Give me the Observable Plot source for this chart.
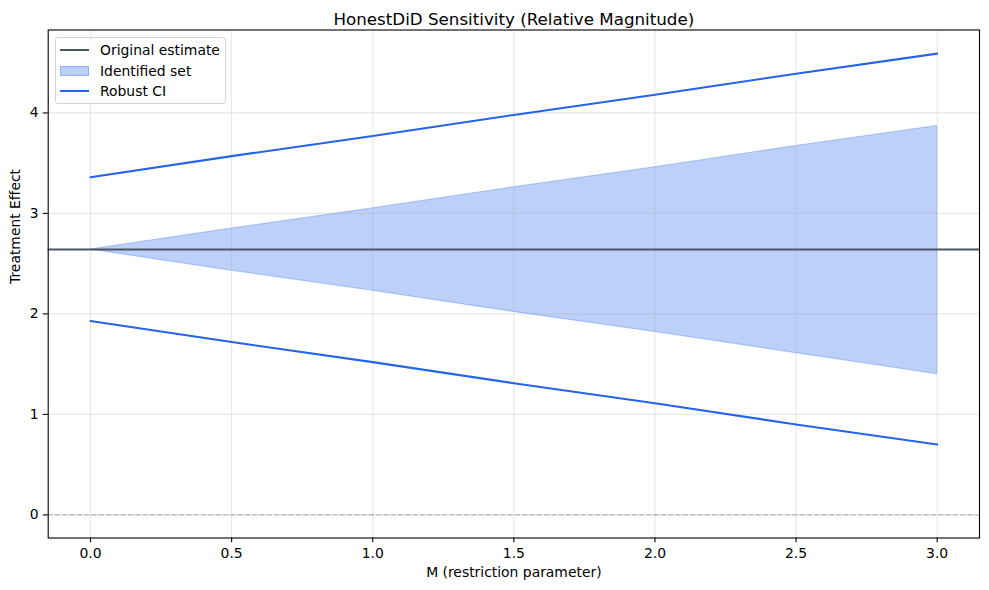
<!DOCTYPE html>
<html><head><meta charset="utf-8">
<script src="https://cdn.jsdelivr.net/npm/d3@7"></script>
<script src="https://cdn.jsdelivr.net/npm/@observablehq/plot@0.6"></script>
<style>
body{margin:0;background:#fff;}
#wrap{position:relative;width:989px;height:590px;font-family:"DejaVu Sans",sans-serif;}
#wrap svg{display:block;}
.legend{position:absolute;left:55px;top:37px;width:171px;height:67px;border:1px solid #d4d4d4;border-radius:3px;background:rgba(255,255,255,0.8);box-sizing:border-box;}
.row{position:absolute;left:0;height:20px;width:100%;}
.sw{position:absolute;left:4px;width:29px;}
.lab{position:absolute;left:44px;font-size:13.9px;line-height:20px;top:-10px;color:#000;white-space:nowrap;}
</style>
</head><body>
<div id="wrap"></div>
<script>
const M = [0, 0.5, 1, 1.5, 2, 2.5, 3];
const originalEstimate = 2.64;
const idLower = [2.64, 2.43, 2.23, 2.02, 1.82, 1.61, 1.40];
const idUpper = [2.64, 2.85, 3.05, 3.26, 3.46, 3.67, 3.87];
const ciLower = [1.93, 1.72, 1.52, 1.31, 1.11, 0.90, 0.70];
const ciUpper = [3.36, 3.57, 3.77, 3.98, 4.18, 4.39, 4.59];
const xTicks = [0, 0.5, 1, 1.5, 2, 2.5, 3];
const yTicks = [0, 1, 2, 3, 4];
const legendLabels = ["Original estimate", "Identified set", "Robust CI"];
const title = "HonestDiD Sensitivity (Relative Magnitude)";
const xLabel = "M (restriction parameter)";
const yLabel = "Treatment Effect";

const blue = "#2563eb";
const slate = "#4b5563";
const rows = M.map((m, i) => ({m, idLower: idLower[i], idUpper: idUpper[i], ciLower: ciLower[i], ciUpper: ciUpper[i]}));

const chart = Plot.plot({
  width: 989, height: 590,
  marginLeft: 47.7, marginRight: 10, marginTop: 29.5, marginBottom: 52.5,
  x: {domain: [-0.15, 3.15]},
  y: {domain: [-0.23, 4.825]},
  style: {fontFamily: "DejaVu Sans", fontSize: "13.9px", color: "black", background: "white", overflow: "visible"},
  marks: [
    Plot.areaY(rows, {x: "m", y1: "idLower", y2: "idUpper", fill: blue, fillOpacity: 0.3, stroke: blue, strokeOpacity: 0.3, strokeWidth: 1.1}),
    Plot.gridX(xTicks, {stroke: "#b0b0b0", strokeOpacity: 0.3, strokeWidth: 1.1}),
    Plot.gridY(yTicks, {stroke: "#b0b0b0", strokeOpacity: 0.3, strokeWidth: 1.1}),
    Plot.ruleY([0], {stroke: "gray", strokeOpacity: 0.5, strokeWidth: 1.4, strokeDasharray: "5.1,2.2"}),
    Plot.ruleY([originalEstimate], {stroke: slate, strokeWidth: 2.08}),
    Plot.lineY(rows, {x: "m", y: "ciUpper", stroke: blue, strokeWidth: 2.08}),
    Plot.lineY(rows, {x: "m", y: "ciLower", stroke: blue, strokeWidth: 2.08}),
    Plot.frame({stroke: "black", strokeWidth: 1.1}),
    Plot.axisX({ticks: xTicks, tickFormat: d3.format(".1f"), tickSize: 4.86, tickPadding: 5.5, label: null, strokeWidth: 1.1}),
    Plot.axisY({ticks: yTicks, tickFormat: d3.format("d"), tickSize: 4.86, tickPadding: 4.86, label: null, strokeWidth: 1.1}),
    Plot.text([title], {frameAnchor: "top", dy: -16.5, fontSize: 16.7, fill: "black"}),
    Plot.text([xLabel], {frameAnchor: "bottom", dy: 38.5, fontSize: 13.9, fill: "black"}),
    Plot.text([yLabel], {frameAnchor: "left", dx: -32.5, rotate: -90, fontSize: 13.9, fill: "black"})
  ]
});
const wrap = document.getElementById("wrap");
wrap.appendChild(chart);

// legend
const leg = document.createElement("div");
leg.className = "legend";
const centers = [12.4, 33, 53];
legendLabels.forEach((t, i) => {
  const r = document.createElement("div");
  r.className = "row";
  r.style.top = centers[i] + "px";
  r.style.height = "0px";
  const sw = document.createElement("div");
  sw.className = "sw";
  if (i === 0) { sw.style.height = "2px"; sw.style.top = "-1px"; sw.style.background = slate; }
  else if (i === 1) { sw.style.height = "10px"; sw.style.top = "-5px"; sw.style.background = "rgba(37,99,235,0.3)"; sw.style.boxSizing = "border-box"; sw.style.border = "1px solid rgba(37,99,235,0.3)"; }
  else { sw.style.height = "2px"; sw.style.top = "-1px"; sw.style.background = blue; }
  const lab = document.createElement("div");
  lab.className = "lab";
  lab.textContent = t;
  r.appendChild(sw); r.appendChild(lab);
  leg.appendChild(r);
});
wrap.appendChild(leg);
</script>
</body></html>
